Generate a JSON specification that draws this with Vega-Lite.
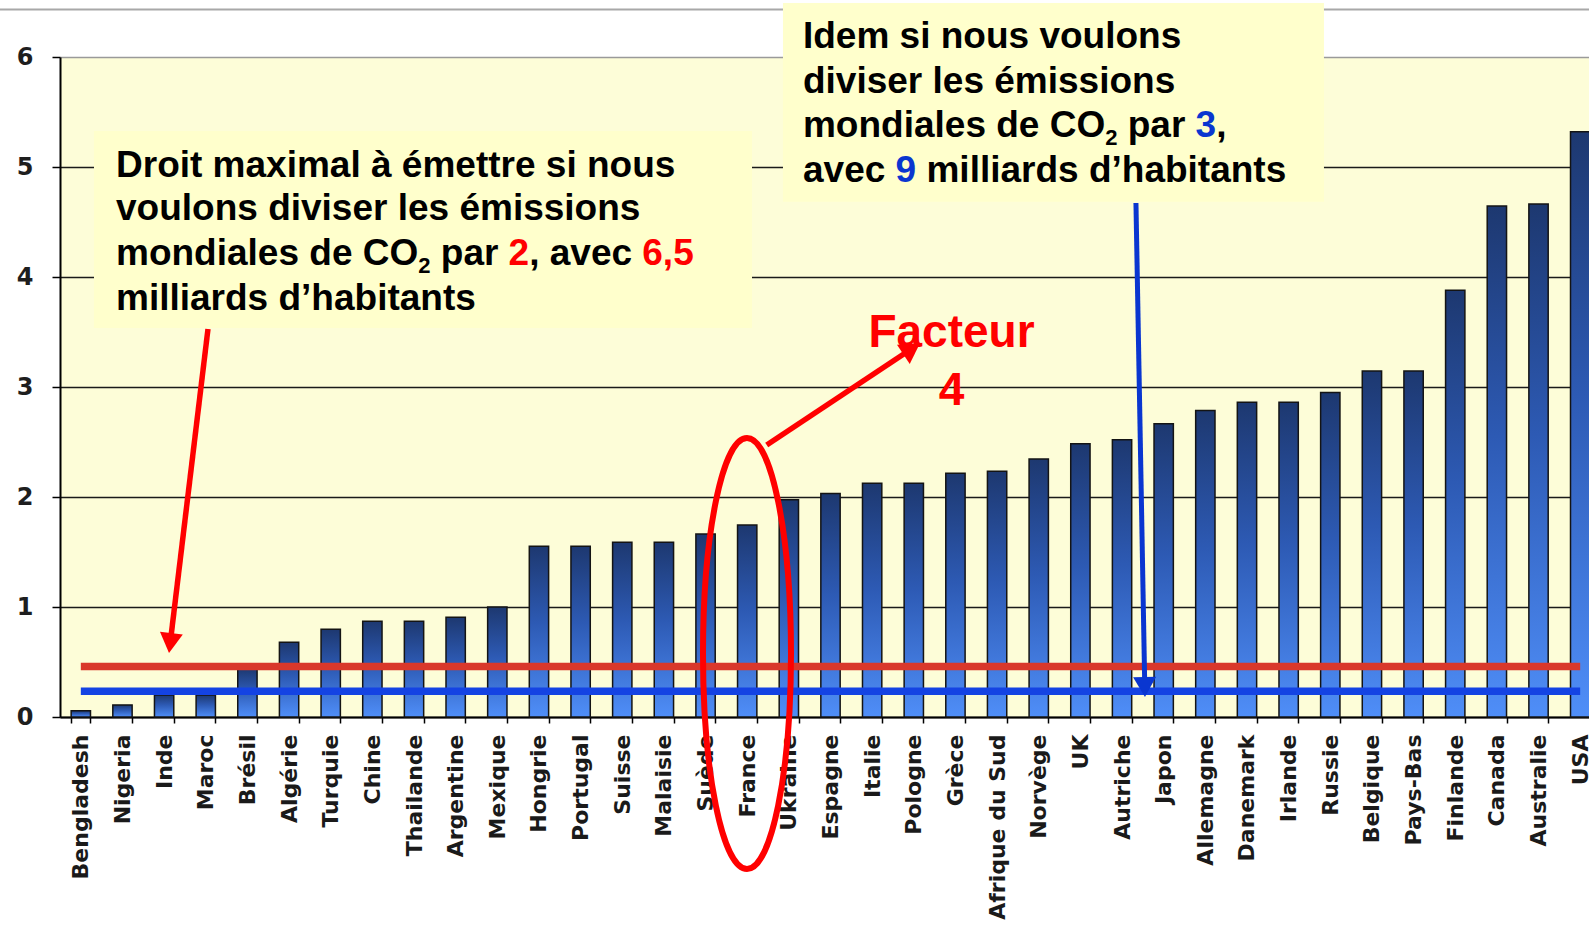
{
  "$schema": "https://vega.github.io/schema/vega-lite/v6.json",
  "width": 1529,
  "height": 660,
  "autosize": {"type": "none"},
  "padding": {"left": 60, "top": 57, "right": 0, "bottom": 216},
  "background": "#ffffff",
  "config": {"view": {"fill": "#fdfdd8", "stroke": null}},
  "datasets": {
    "emissions": [
      {"pays": "Bengladesh", "t": 0.057},
      {"pays": "Nigeria", "t": 0.11},
      {"pays": "Inde", "t": 0.2},
      {"pays": "Maroc", "t": 0.2},
      {"pays": "Brésil", "t": 0.44},
      {"pays": "Algérie", "t": 0.68},
      {"pays": "Turquie", "t": 0.797},
      {"pays": "Chine", "t": 0.871},
      {"pays": "Thailande", "t": 0.871},
      {"pays": "Argentine", "t": 0.907},
      {"pays": "Mexique", "t": 1.0},
      {"pays": "Hongrie", "t": 1.553},
      {"pays": "Portugal", "t": 1.553},
      {"pays": "Suisse", "t": 1.589},
      {"pays": "Malaisie", "t": 1.589},
      {"pays": "Suède", "t": 1.664},
      {"pays": "France", "t": 1.745},
      {"pays": "Ukraine", "t": 1.976},
      {"pays": "Espagne", "t": 2.032},
      {"pays": "Italie", "t": 2.124},
      {"pays": "Pologne", "t": 2.124},
      {"pays": "Grèce", "t": 2.215},
      {"pays": "Afrique du Sud", "t": 2.234},
      {"pays": "Norvège", "t": 2.345},
      {"pays": "UK", "t": 2.483},
      {"pays": "Autriche", "t": 2.52},
      {"pays": "Japon", "t": 2.667},
      {"pays": "Allemagne", "t": 2.787},
      {"pays": "Danemark", "t": 2.861},
      {"pays": "Irlande", "t": 2.861},
      {"pays": "Russie", "t": 2.95},
      {"pays": "Belgique", "t": 3.146},
      {"pays": "Pays-Bas", "t": 3.146},
      {"pays": "Finlande", "t": 3.88},
      {"pays": "Canada", "t": 4.645},
      {"pays": "Australie", "t": 4.664},
      {"pays": "USA", "t": 5.32}
    ],
    "filet": [{"x": -1.5, "x2": 37.5, "y": 6.432}],
    "seuils": [
      {"objectif": "division par 2, 6,5 milliards", "x": 0.5, "x2": 36.5, "y": 0.46},
      {"objectif": "division par 3, 9 milliards", "x": 0.5, "x2": 36.5, "y": 0.235}
    ],
    "encadres": [
      {"nom": "droit", "x": 0.816, "x2": 16.615, "y": 5.327, "y2": 3.536},
      {"nom": "idem", "x": 17.359, "x2": 30.348, "y": 6.491, "y2": 4.685}
    ],
    "texte": [
      {"x": 1.345, "y": 4.912, "t": "Droit maximal à émettre si nous"},
      {"x": 1.345, "y": 4.518, "t": "voulons diviser les émissions"},
      {"x": 1.345, "y": 4.109, "t": "mondiales de CO"},
      {"x": 9.143, "y": 4.109, "t": "par"},
      {"x": 11.265, "y": 4.109, "t": ", avec"},
      {"x": 1.345, "y": 3.7, "t": "milliards d’habitants"},
      {"x": 17.839, "y": 6.082, "t": "Idem si nous voulons"},
      {"x": 17.839, "y": 5.677, "t": "diviser les émissions"},
      {"x": 17.839, "y": 5.273, "t": "mondiales de CO"},
      {"x": 25.637, "y": 5.273, "t": "par"},
      {"x": 27.76, "y": 5.273, "t": ","},
      {"x": 17.839, "y": 4.868, "t": "avec"},
      {"x": 20.804, "y": 4.868, "t": "milliards d’habitants"}
    ],
    "indices": [
      {"x": 8.603, "y": 4.036, "t": "2"},
      {"x": 25.097, "y": 5.2, "t": "2"}
    ],
    "rouge": [
      {"x": 10.771, "y": 4.109, "t": "2"},
      {"x": 13.981, "y": 4.109, "t": "6,5"}
    ],
    "bleu": [
      {"x": 27.265, "y": 5.273, "t": "3"},
      {"x": 20.062, "y": 4.868, "t": "9"}
    ],
    "facteur": [
      {"x": 21.405, "y": 3.366, "t": "Facteur"},
      {"x": 21.405, "y": 2.836, "t": "4"}
    ],
    "fleches": [
      {"nom": "droit", "x": 3.553, "y": 3.527, "x2": 2.646, "y2": 0.672},
      {"nom": "facteur", "x": 16.969, "y": 2.473, "x2": 20.449, "y2": 3.347},
      {"nom": "idem", "x": 25.834, "y": 4.673, "x2": 26.046, "y2": 0.273}
    ],
    "ellipse": [{"pays": "France", "x": 16.495, "y": 0.577}]
  },
  "layer": [
    {
      "data": {"name": "emissions"},
      "mark": {
        "type": "bar",
        "color": {
          "x1": 0, "y1": 0, "x2": 0, "y2": 1,
          "gradient": "linear",
          "stops": [
            {"offset": 0, "color": "#1d3870"},
            {"offset": 0.45, "color": "#2d5ab4"},
            {"offset": 1, "color": "#4f8ef8"}
          ]
        },
        "stroke": "#141414",
        "strokeWidth": 1.5
      },
      "encoding": {
        "x": {
          "field": "pays",
          "type": "nominal",
          "sort": null,
          "scale": {"range": [0, 1541], "paddingInner": 0.536, "paddingOuter": 0.268},
          "axis": {
            "title": null,
            "labelAngle": -90,
            "labelFont": "DejaVu Sans",
            "labelFontWeight": "bold",
            "labelFontSize": 22,
            "labelColor": "#1a1a1a",
            "labelPadding": 11,
            "labelLimit": 400,
            "labelOverlap": false,
            "tickBand": "extent",
            "tickSize": 6,
            "tickColor": "#000000",
            "tickWidth": 1.5,
            "domainColor": "#000000",
            "domainWidth": 2,
            "grid": false
          }
        },
        "y": {
          "field": "t",
          "type": "quantitative",
          "scale": {"domain": [0, 6], "nice": false, "zero": true},
          "axis": {
            "title": null,
            "values": [0, 1, 2, 3, 4, 5, 6],
            "labelFont": "DejaVu Sans",
            "labelFontWeight": "bold",
            "labelFontSize": 24,
            "labelColor": "#1e1e1e",
            "labelPadding": 19,
            "tickSize": 8,
            "tickColor": "#000000",
            "tickWidth": 1.5,
            "domainColor": "#000000",
            "domainWidth": 2,
            "grid": true,
            "gridColor": {"condition": {"test": "datum.value === 6", "value": "#9a9a9a"}, "value": "#1a1a1a"},
            "gridWidth": 1.5
          }
        }
      }
    },
    {
      "encoding": {
        "x": {"field": "x", "type": "quantitative", "scale": {"domain": [0, 37], "range": [0, 1541], "nice": false, "zero": false}, "axis": null},
        "y": {"field": "y", "type": "quantitative", "scale": {"domain": [0, 6], "nice": false, "zero": false}, "axis": null}
      },
      "layer": [
        {
          "data": {"name": "filet"},
          "mark": {"type": "rule", "color": "#a8a8a8", "strokeWidth": 2},
          "encoding": {"x2": {"field": "x2"}}
        },
        {
          "data": {"name": "seuils"},
          "transform": [{"filter": "datum.y > 0.3"}],
          "mark": {"type": "rule", "color": "#d9382b", "strokeWidth": 7.5, "strokeCap": "butt"},
          "encoding": {"x2": {"field": "x2"}}
        },
        {
          "data": {"name": "seuils"},
          "transform": [{"filter": "datum.y < 0.3"}],
          "mark": {"type": "rule", "color": "#1443e3", "strokeWidth": 7.5, "strokeCap": "butt"},
          "encoding": {"x2": {"field": "x2"}}
        },
        {
          "data": {"name": "encadres"},
          "mark": {"type": "rect", "color": "#ffffcc", "opacity": 1},
          "encoding": {"x2": {"field": "x2"}, "y2": {"field": "y2"}}
        },
        {
          "data": {"name": "texte"},
          "mark": {"type": "text", "font": "Liberation Sans", "fontWeight": "bold", "fontSize": 37, "color": "#000000", "align": "left", "baseline": "alphabetic"},
          "encoding": {"text": {"field": "t"}}
        },
        {
          "data": {"name": "indices"},
          "mark": {"type": "text", "font": "Liberation Sans", "fontWeight": "bold", "fontSize": 22, "color": "#000000", "align": "left", "baseline": "alphabetic"},
          "encoding": {"text": {"field": "t"}}
        },
        {
          "data": {"name": "rouge"},
          "mark": {"type": "text", "font": "Liberation Sans", "fontWeight": "bold", "fontSize": 37, "color": "#ff0000", "align": "left", "baseline": "alphabetic"},
          "encoding": {"text": {"field": "t"}}
        },
        {
          "data": {"name": "bleu"},
          "mark": {"type": "text", "font": "Liberation Sans", "fontWeight": "bold", "fontSize": 37, "color": "#0a36d0", "align": "left", "baseline": "alphabetic"},
          "encoding": {"text": {"field": "t"}}
        },
        {
          "data": {"name": "facteur"},
          "mark": {"type": "text", "font": "Liberation Sans", "fontWeight": "bold", "fontSize": 46, "color": "#ff0000", "align": "center", "baseline": "alphabetic"},
          "encoding": {"text": {"field": "t"}}
        },
        {
          "data": {"name": "fleches"},
          "transform": [{"filter": "datum.nom !== 'idem'"}],
          "mark": {"type": "rule", "color": "#ff0000", "strokeWidth": 5.5, "strokeCap": "butt"},
          "encoding": {"x2": {"field": "x2"}, "y2": {"field": "y2"}}
        },
        {
          "data": {"name": "fleches"},
          "transform": [{"filter": "datum.nom === 'idem'"}],
          "mark": {"type": "rule", "color": "#0a36d0", "strokeWidth": 5, "strokeCap": "butt"},
          "encoding": {"x2": {"field": "x2"}, "y2": {"field": "y2"}}
        },
        {
          "data": {"name": "fleches"},
          "transform": [{"filter": "datum.nom === 'droit'"}],
          "mark": {"type": "point", "shape": "triangle-down", "angle": 6.86, "size": 529, "filled": true, "color": "#ff0000", "opacity": 1, "strokeWidth": 0},
          "encoding": {"x": {"field": "x2", "type": "quantitative"}, "y": {"field": "y2", "type": "quantitative"}}
        },
        {
          "data": {"name": "fleches"},
          "transform": [{"filter": "datum.nom === 'facteur'"}],
          "mark": {"type": "point", "shape": "triangle-up", "angle": 56.4, "size": 529, "filled": true, "color": "#ff0000", "opacity": 1, "strokeWidth": 0},
          "encoding": {"x": {"field": "x2", "type": "quantitative"}, "y": {"field": "y2", "type": "quantitative"}}
        },
        {
          "data": {"name": "fleches"},
          "transform": [{"filter": "datum.nom === 'idem'"}],
          "mark": {"type": "point", "shape": "triangle-down", "angle": -1.04, "size": 529, "filled": true, "color": "#0a36d0", "opacity": 1, "strokeWidth": 0},
          "encoding": {"x": {"field": "x2", "type": "quantitative"}, "y": {"field": "y2", "type": "quantitative"}}
        },
        {
          "data": {"name": "ellipse"},
          "mark": {
            "type": "point",
            "shape": "M0,-1C0.1128,-1,0.2042,-0.5523,0.2042,0C0.2042,0.5523,0.1128,1,0,1C-0.1128,1,-0.2042,0.5523,-0.2042,0C-0.2042,-0.5523,-0.1128,-1,0,-1Z",
            "size": 185761,
            "filled": false,
            "color": "#ff0000",
            "opacity": 1,
            "strokeWidth": 6
          }
        }
      ]
    }
  ],
  "resolve": {"scale": {"x": "independent", "y": "independent"}}
}
